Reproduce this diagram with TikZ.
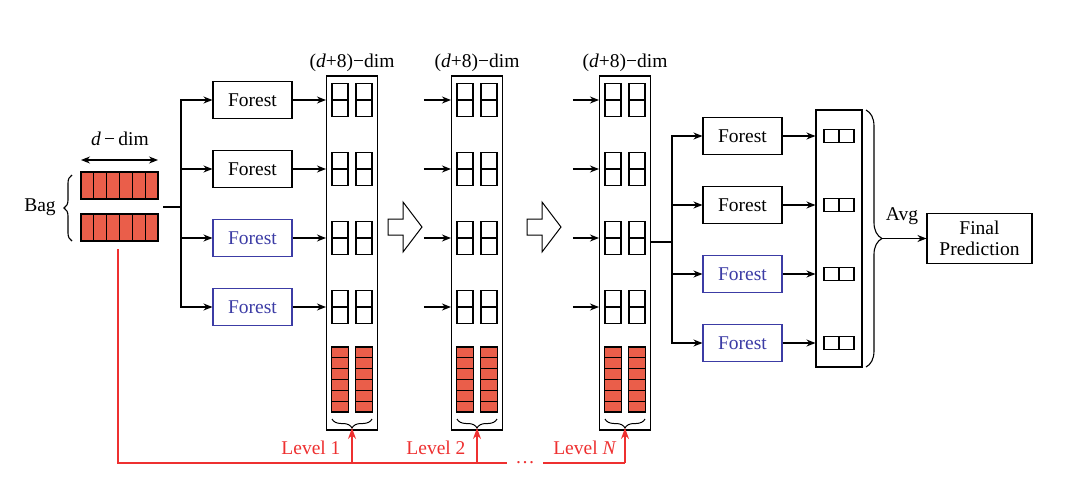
\documentclass[tikz,border=0pt]{standalone}
\usepackage{fontspec}
\setmainfont{Liberation Serif}
\usepackage{tikz}
\usetikzlibrary{positioning,arrows.meta,decorations.pathreplacing,calc}
\definecolor{forestblue}{RGB}{60,60,165}
\definecolor{cellred}{RGB}{234,94,74}
\definecolor{levelred}{RGB}{238,48,48}

\begin{document}
\begin{tikzpicture}[x=1pt, y=-1pt, line width=1.1pt, font=\fontsize{19.5}{21}\selectfont,
  arr/.style={-{Stealth[length=9pt,width=7pt]}},
  forest/.style={rectangle, draw, minimum width=79pt, minimum height=37pt, inner sep=0pt},
  blueforest/.style={forest, draw=forestblue, text=forestblue},
  column/.style={rectangle, draw, minimum width=51pt, minimum height=354pt},
  leveltext/.style={text=levelred, anchor=east, inner sep=1pt},
  bracedeco/.style={decorate, decoration={brace, amplitude=#1}}]
  \useasboundingbox (0,0) rectangle (1080,480);

  % bag of instances
  \foreach \y in {172,214} {
    \filldraw[fill=cellred] (81,\y) rectangle (158,\y+27);
    \foreach \k in {1,...,5} \draw (81+\k*12.83,\y) -- (81+\k*12.83,\y+27);
  }
  \draw[{Stealth[length=9pt,width=7pt]}-{Stealth[length=9pt,width=7pt]}] (81,160) -- (158,160);
  \node (ddim) at (120,139) {\textit{d}\,−\,dim};
  \draw[bracedeco=8pt] (72,241) -- (72,175);
  \node (bag) at (40,207) {Bag};
  \coordinate (bagR) at (163,207);
  \coordinate (bagB) at (118,249);
  \coordinate (sp1) at (181,207);

  % first level forests
  \node[forest] (f1) at (252.5,100) {Forest};
  \node[forest] (f2) at (252.5,169) {Forest};
  \node[blueforest] (f3) at (252.5,238) {Forest};
  \node[blueforest] (f4) at (252.5,307) {Forest};

  % cascade levels
  \foreach \c/\n in {352/1,477/2,625/3} {
    \node[column] (col\n) at (\c,253) {};
    \node[above=0pt of col\n] (dl\n) {(\textit{d}+8)−dim};
    \foreach \y in {100,169,238,307} {
      \foreach \dx in {-12,12} {
        \draw (\c+\dx-8,\y-16.5) rectangle (\c+\dx+8,\y+16.5);
        \draw (\c+\dx-8,\y) -- (\c+\dx+8,\y);
      }
    }
    \foreach \dx in {-12,12} {
      \filldraw[fill=cellred] (\c+\dx-8.5,347) rectangle (\c+\dx+8.5,412);
      \foreach \k in {1,...,5} \draw (\c+\dx-8.5,347+\k*10.83) -- (\c+\dx+8.5,347+\k*10.83);
    }
    \draw[bracedeco=9pt, line width=1pt] (\c+20,419) -- (\c-20,419);
    \coordinate (t\n) at (\c,428);
  }
  \foreach \y [count=\i] in {100,169,238,307} \coordinate (r\i) at (0,\y);

  \draw (bagR) -- (sp1);
  \foreach \i in {1,...,4} {
    \draw[arr] (sp1) |- (f\i.west);
    \draw[arr] (f\i.east) -- (col1.west |- r\i);
    \draw[arr] ([xshift=-27pt]col2.west |- r\i) -- (col2.west |- r\i);
    \draw[arr] ([xshift=-26pt]col3.west |- r\i) -- (col3.west |- r\i);
  }

  % hollow arrows between levels
  \foreach \dx in {0,139}
    \draw[line width=1pt, shift={(\dx,0)}] (388,219) -- (403,219) -- (403,202) -- (422,227)
      -- (403,252) -- (403,235) -- (388,235) -- cycle;

  % last level forests
  \coordinate (sp2) at (672,242);
  \node[forest] (g1) at (742.5,136) {Forest};
  \node[forest] (g2) at (742.5,205) {Forest};
  \node[blueforest] (g3) at (742.5,274) {Forest};
  \node[blueforest] (g4) at (742.5,343) {Forest};
  \node[rectangle, draw, minimum width=46pt, minimum height=257pt] (out) at (839,238.5) {};
  \draw (col3.east |- sp2) -- (sp2);
  \foreach \i in {1,...,4} {
    \draw[arr] (sp2) |- (g\i.west);
    \draw[arr] (g\i.east) -- (out.west |- g\i);
  }
  \foreach \y in {136,205,274,343} {
    \draw (824,\y-6.5) rectangle (854,\y+6.5);
    \draw (839,\y-6.5) -- (839,\y+6.5);
  }

  % averaging
  \draw[bracedeco=16pt] (866,110) -- (866,367);
  \coordinate (avgtip) at (882,238.5);
  \node[rectangle, draw, minimum width=105pt, minimum height=50pt, align=center, inner sep=0pt] (final) at (979.5,238.5) {Final\\Prediction};
  \draw[arr] (avgtip) -- (final.west);
  \node (avg) at (902,216) {Avg};

  % level feeding
  \coordinate (rl) at (0,463);
  \node[text=levelred, inner sep=8pt] (dots) at (525,463) {\dots};
  \draw[levelred] (bagB) |- (dots.west);
  \draw[levelred] (dots.east) -- (t3 |- rl);
  \foreach \n in {1,2,3} \draw[levelred, -{Stealth[length=11pt,width=8pt]}] (t\n |- rl) -- (t\n);
  \node[leveltext] (lv1) at (342,448) {Level 1};
  \node[leveltext] (lv2) at (467,448) {Level 2};
  \node[leveltext] (lv3) at (618,448) {Level \textit{N}};
\end{tikzpicture}
\end{document}
